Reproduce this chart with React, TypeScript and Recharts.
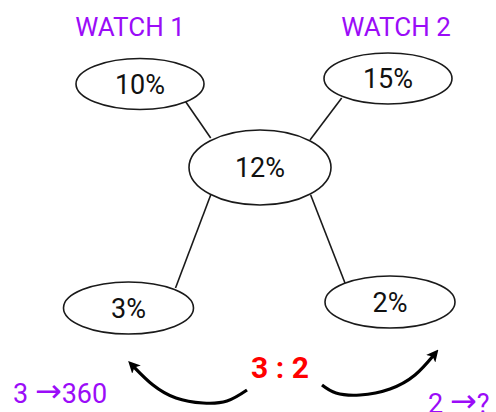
import React from "react";
import { ComposedChart, XAxis, YAxis, Scatter, Line, ReferenceLine } from "recharts";

// Alligation values
const nodeLabels = ["10%", "15%", "12%", "3%", "2%"];
const nodeX = [140, 388, 260, 128.5, 390];
const nodeY = [84, 78.5, 167.5, 308, 302];
const nodeRx = [64, 64, 71, 65, 65];
const nodeRy = [25.5, 25.5, 37.5, 26, 26];

const headings = ["WATCH 1", "WATCH 2"];
const headingX = [130, 396];
const headingY = [36, 36];

const ratioText = "3 : 2";
const ratioPos = { x: 280, y: 378 };

// notes: [left part, right part] joined by an arrow
const noteLeft = ["3 ", "2 "];
const noteRight = ["360", "?"];
const noteX = [13, 428];
const noteY = [403, 413];

// connectors [from, to]
const connectors = [
  [{ x: 185.7, y: 101.7 }, { x: 210.7, y: 138 }],
  [{ x: 341.7, y: 98 }, { x: 310, y: 140 }],
  [{ x: 210.7, y: 195 }, { x: 175.5, y: 288 }],
  [{ x: 310.7, y: 195 }, { x: 345, y: 283 }],
];

const leftArrow = [
  { x: 247, y: 390 },
  { x: 227, y: 401 },
  { x: 203, y: 403 },
  { x: 176, y: 398 },
  { x: 153, y: 385 },
  { x: 134, y: 367 },
];
const rightArrow = [
  { x: 322, y: 385 },
  { x: 336, y: 393 },
  { x: 360, y: 395 },
  { x: 390, y: 389 },
  { x: 415, y: 375 },
  { x: 433, y: 356 },
];

const nodes = nodeLabels.map((label, i) => ({
  x: nodeX[i],
  y: nodeY[i],
  label,
  rx: nodeRx[i],
  ry: nodeRy[i],
}));
const headingData = headings.map((label, i) => ({ x: headingX[i], y: headingY[i], label }));
const noteData = noteLeft.map((left, i) => ({ x: noteX[i], y: noteY[i], left, right: noteRight[i] }));
const ratioData = [{ ...ratioPos, label: ratioText }];

const FONT = "Roboto, 'Noto Sans', sans-serif";
const PURPLE = "#9b0cf8";

const NodeShape = (props: any) => {
  const { cx, cy, payload } = props;
  return (
    <g>
      <ellipse cx={cx} cy={cy} rx={payload.rx} ry={payload.ry} fill="#fff" stroke="#1a1a1a" strokeWidth={1.6} />
      <text x={cx} y={cy + 9.5} textAnchor="middle" fontSize={27} fontFamily={FONT} fill="#111">
        {payload.label}
      </text>
    </g>
  );
};

const makeText = (size: number, color: string, weight: string | number) => (props: any) => {
  const { cx, cy, payload } = props;
  return (
    <text x={cx} y={cy} textAnchor="middle" fontSize={size} fontFamily={FONT} fill={color} fontWeight={weight}>
      {payload.label}
    </text>
  );
};

const NoteShape = (props: any) => {
  const { cx, cy, payload } = props;
  return (
    <text x={cx} y={cy} textAnchor="start" fontSize={27} fontFamily={FONT} fill={PURPLE}>
      <tspan>{payload.left}</tspan>
      <tspan fontFamily="'DejaVu Sans', sans-serif" fontSize={32} dy={-1}>{"\u2192"}</tspan>
      <tspan dy={1}>{payload.right}</tspan>
    </text>
  );
};

const HeadingShape = makeText(26, PURPLE, 400);
const RatioShape = makeText(30, "#ff0000", 700);

export default function App() {
  return (
    <div style={{ position: "absolute", left: 0, top: 0, background: "#fff" }}>
      <ComposedChart width={496} height={412} margin={{ top: 0, right: 0, bottom: 0, left: 0 }}>
        <defs>
          <marker id="arrowHead" viewBox="0 0 10 10" refX="3" refY="5" markerWidth="12" markerHeight="12" markerUnits="userSpaceOnUse" orient="auto">
            <path d="M0,0 L10,5 L0,10 L2.5,5 z" fill="#000" />
          </marker>
        </defs>
        <XAxis type="number" dataKey="x" domain={[0, 496]} hide allowDataOverflow />
        <YAxis type="number" dataKey="y" domain={[0, 412]} reversed hide allowDataOverflow />
        {connectors.map((seg, i) => (
          <ReferenceLine key={i} segment={seg} stroke="#1a1a1a" strokeWidth={1.6} ifOverflow="visible" />
        ))}
        <Line data={leftArrow} dataKey="y" type="natural" stroke="#000" strokeWidth={3.2} dot={false} isAnimationActive={false} markerEnd="url(#arrowHead)" />
        <Line data={rightArrow} dataKey="y" type="natural" stroke="#000" strokeWidth={3.2} dot={false} isAnimationActive={false} markerEnd="url(#arrowHead)" />
        <Scatter data={nodes} dataKey="y" shape={NodeShape} isAnimationActive={false} />
        <Scatter data={headingData} dataKey="y" shape={HeadingShape} isAnimationActive={false} />
        <Scatter data={noteData} dataKey="y" shape={NoteShape} isAnimationActive={false} />
        <Scatter data={ratioData} dataKey="y" shape={RatioShape} isAnimationActive={false} />
      </ComposedChart>
    </div>
  );
}
